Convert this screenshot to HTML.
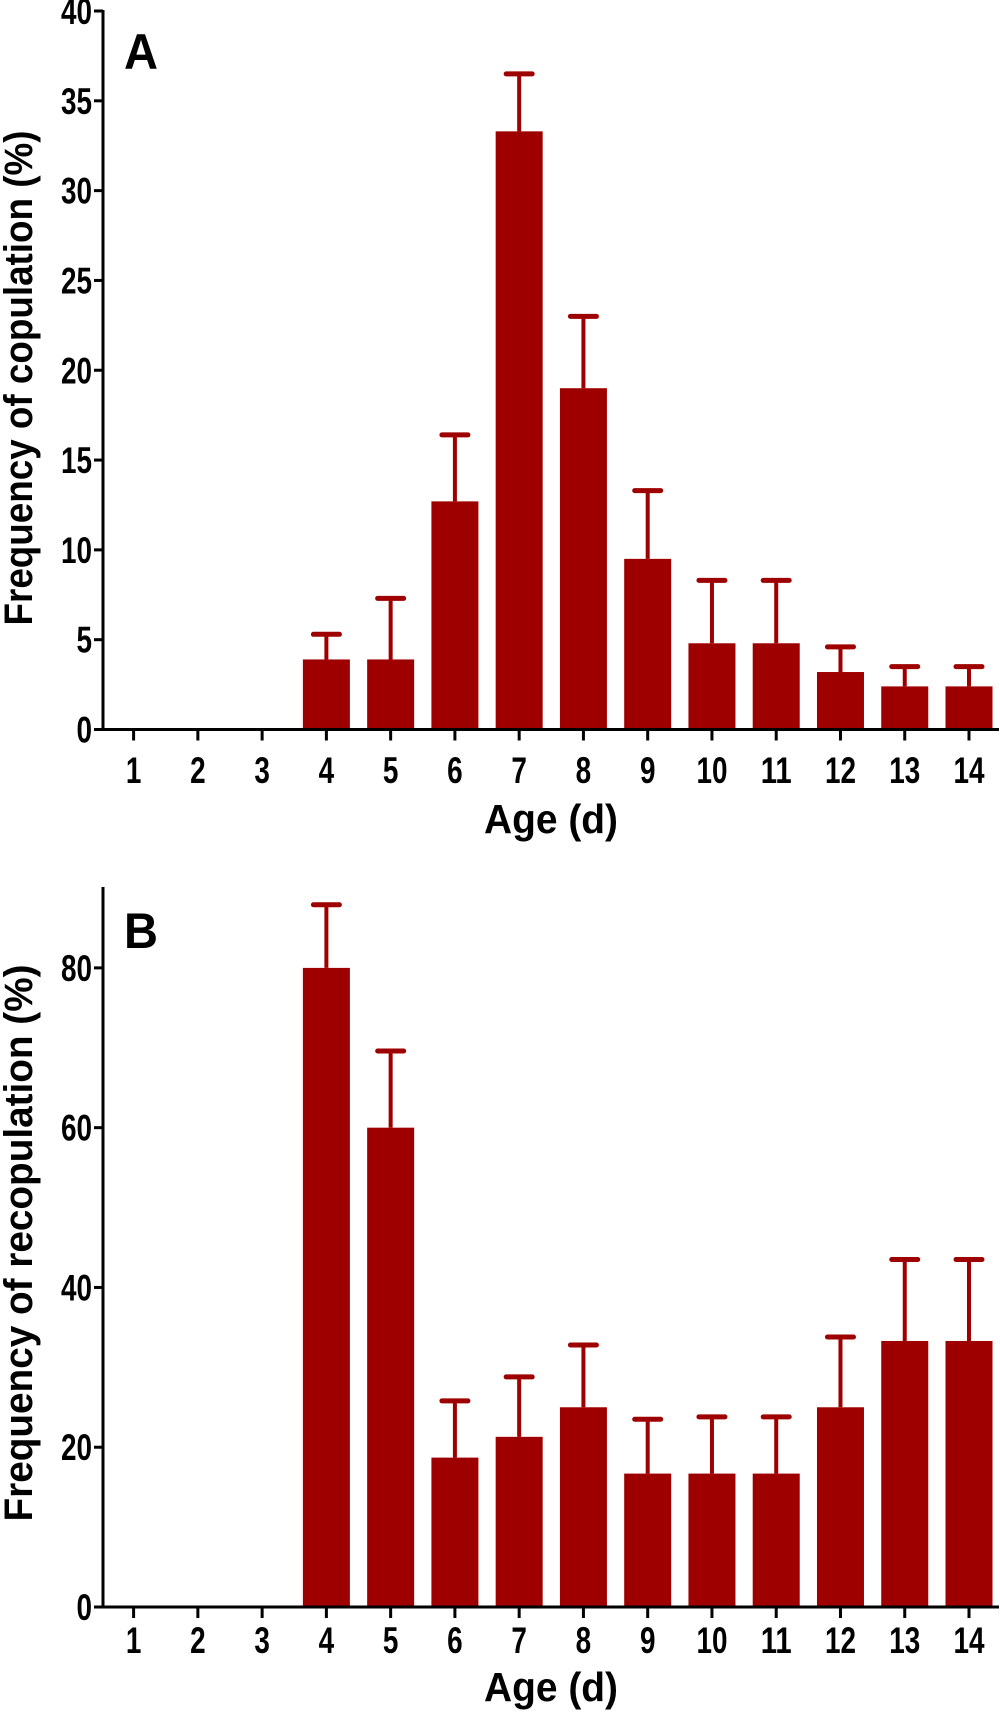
<!DOCTYPE html>
<html><head><meta charset="utf-8"><style>
html,body{margin:0;padding:0;background:#fff;}
svg{display:block;}
text{font-family:"Liberation Sans Narrow","Liberation Sans",sans-serif;font-weight:bold;fill:#000;}
</style></head><body>
<svg id="chart" width="1000" height="1717" viewBox="0 0 1000 1717" xmlns="http://www.w3.org/2000/svg"></svg>
<script>
const categories = [1,2,3,4,5,6,7,8,9,10,11,12,13,14];
const copulationMeans = [0,0,0,3.9,3.9,12.7,33.3,19.0,9.5,4.8,4.8,3.2,2.4,2.4];
const copulationErrTop = [0,0,0,5.3,7.3,16.4,36.5,23.0,13.3,8.3,8.3,4.6,3.5,3.5];
const copulationTicks = [0,5,10,15,20,25,30,35,40];
const recopMeans = [0,0,0,80,60,18.7,21.3,25,16.7,16.7,16.7,25,33.3,33.3];
const recopErrTop = [0,0,0,87.9,69.6,25.8,28.8,32.8,23.5,23.8,23.8,33.8,43.5,43.5];
const recopTicks = [0,20,40,60,80];

const NS = "http://www.w3.org/2000/svg";
const svg = document.getElementById('chart');
function mk(tag, attrs, parent){
  const e = document.createElementNS(NS, tag);
  for (const k in attrs) e.setAttribute(k, attrs[k]);
  (parent||svg).appendChild(e);
  return e;
}
const RED = "#9e0000";
const FS = 37;
const CHW = 15.5;
function panel(cfg){
  const g = mk('g', {});
  
  
  const x0 = 103, xEnd = 999;
  const yScale = v => cfg.zeroY - (v / cfg.ymax) * (cfg.zeroY - cfg.topY);
  const xScale = c => 133.6 + (c - 1) * (969 - 133.6) / 13;
  categories.forEach((c, i) => {
    const v = cfg.means[i];
    if (v <= 0) return;
    const cx = xScale(c);
    const b = mk('rect', {x: cx - 23.5, y: yScale(v), width: 47, height: cfg.zeroY - yScale(v), fill: RED}, g);
    
    
    const e = cfg.err[i];
    const l = mk('line', {x1: cx, x2: cx, y1: yScale(v), y2: yScale(e), stroke: RED, 'stroke-width': 4}, g);
    
    
    const cap = mk('line', {x1: cx - 13, x2: cx + 13, y1: yScale(e), y2: yScale(e), stroke: RED, 'stroke-width': 5, 'stroke-linecap': 'round'}, g);
    
    
  });
  const ya = mk('line', {x1: x0, x2: x0, y1: cfg.topY - 1, y2: cfg.zeroY + 1.5, stroke: '#000', 'stroke-width': 3}, g);
  
  
  const xa = mk('line', {x1: x0 - 1.5, x2: xEnd, y1: cfg.zeroY, y2: cfg.zeroY, stroke: '#000', 'stroke-width': 3}, g);
  
  
  cfg.ticks.forEach(t => {
    const y = yScale(t);
    const tk = mk('line', {x1: x0 - 9, x2: x0, y1: y, y2: y, stroke: '#000', 'stroke-width': 3}, g);
    
    
    const s = String(t);
    const tl = mk('text', {x: 92, y: y + 13, 'text-anchor': 'end', 'font-size': FS, textLength: s.length * CHW, lengthAdjust: 'spacingAndGlyphs'}, g);
    tl.textContent = s;
    
    
  });
  categories.forEach(c => {
    const x = xScale(c);
    const tk = mk('line', {x1: x, x2: x, y1: cfg.zeroY, y2: cfg.zeroY + 11, stroke: '#000', 'stroke-width': 3}, g);
    
    
    const s = String(c);
    const tl = mk('text', {x: x, y: cfg.xLabY + 13, 'text-anchor': 'middle', 'font-size': FS, textLength: s.length * CHW, lengthAdjust: 'spacingAndGlyphs'}, g);
    tl.textContent = s;
    
    
  });
  const xt = mk('text', {x: 551, y: cfg.xTitleY + 14, 'text-anchor': 'middle', 'font-size': 41, textLength: 134, lengthAdjust: 'spacingAndGlyphs'}, g);
  xt.textContent = 'Age (d)';
  
  
  const yt = mk('text', {x: 0, y: 0, 'text-anchor': 'middle', 'font-size': 40, textLength: cfg.yTitleLen, lengthAdjust: 'spacingAndGlyphs', transform: 'translate(32,' + cfg.yTitleCY + ') rotate(-90)'}, g);
  yt.textContent = cfg.yTitle;
  
  
  const pl = mk('text', {x: 124, y: cfg.letterY + 19, 'font-size': 50, 'font-family': 'Liberation Sans, sans-serif', textLength: 34, lengthAdjust: 'spacingAndGlyphs'}, g);
  pl.textContent = cfg.letter;
  
  
}
panel({name: 'panel-a-copulation-chart', means: copulationMeans, err: copulationErrTop, ticks: copulationTicks,
  ymax: 40, topY: 11, zeroY: 729.5, xLabY: 770, xTitleY: 819, yTitle: 'Frequency of copulation (%)', yTitleCY: 378, yTitleLen: 495, letter: 'A', letterY: 50});
panel({name: 'panel-b-recopulation-chart', means: recopMeans, err: recopErrTop, ticks: recopTicks,
  ymax: 90, topY: 888, zeroY: 1607, xLabY: 1640, xTitleY: 1687, yTitle: 'Frequency of recopulation (%)', yTitleCY: 1243, yTitleLen: 557, letter: 'B', letterY: 929});
</script>
</body></html>
